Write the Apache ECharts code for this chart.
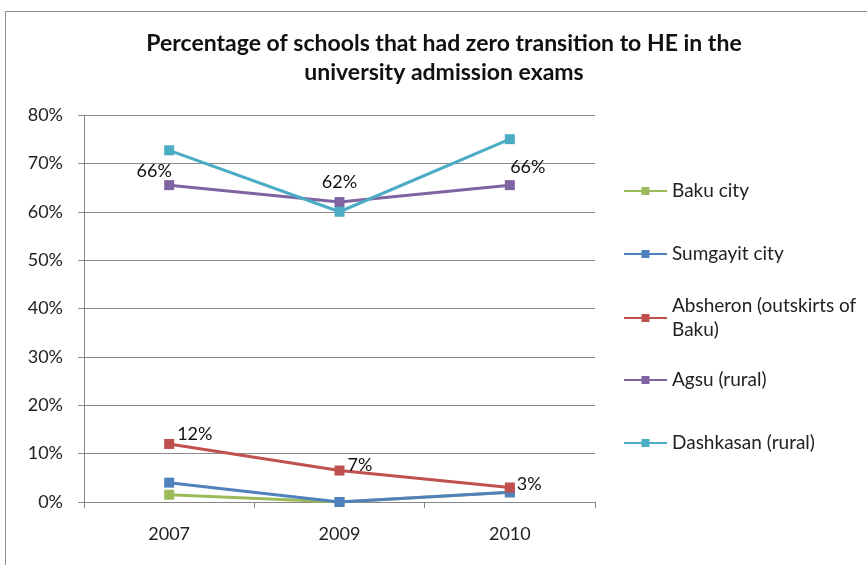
<!DOCTYPE html>
<html>
<head>
<meta charset="utf-8">
<script src="https://cdn.jsdelivr.net/npm/echarts@6/dist/echarts.min.js"></script>
<style>
  html, body { margin: 0; padding: 0; background: #fff; }
  #chart { width: 867px; height: 565px; }
</style>
</head>
<body>
<div id="chart"></div>
<script>
// 数据
const years = ['2007', '2009', '2010']
const bakuCity = [1.5, 0, 2]
const sumgayitCity = [4, 0, 2]
const absheron = [12, 6.5, 3]
const agsu = [65.5, 62, 65.5]
const dashkasan = [72.7, 60, 75]
const absheronLabels = ['12%', '7%', '3%']
const agsuLabels = ['66%', '62%', '66%']

const seriesNames = ['Baku city', 'Sumgayit city', 'Absheron (outskirts of Baku)', 'Agsu (rural)', 'Dashkasan (rural)']
const colors = ['#9BBB59', '#4F81BD', '#C0504D', '#8064A2', '#4BACC6']
// 图例线条所在的y
const legendLineY = [191, 254, 318, 380, 443]

const font = 'Lato, Open Sans, sans-serif'

function lineSeries(name, values, color, z) {
  return {
    name: name,
    type: 'line',
    data: values,
    symbol: 'rect',
    symbolSize: 10,
    z: z,
    lineStyle: { color: color, width: 3 },
    itemStyle: { color: color },
  }
}

const series = [
  lineSeries(seriesNames[0], bakuCity, colors[0], 2),
  lineSeries(seriesNames[1], sumgayitCity, colors[1], 3),
  lineSeries(seriesNames[2], absheron, colors[2], 4),
  lineSeries(seriesNames[3], agsu, colors[3], 5),
  lineSeries(seriesNames[4], dashkasan, colors[4], 6),
]

// 数据标签
const labelBase = { show: true, color: '#111', fontFamily: font, fontSize: 18 }
const absheronPos = [[-2, -10], [-2, -5], [-3, -3]]
series[2].data = absheron.map((v, i) => ({
  value: v,
  label: Object.assign({}, labelBase, { position: 'right', offset: absheronPos[i], formatter: absheronLabels[i] }),
}))
const agsuPos = [[-15, 5], [0, -1], [18, 1]]
series[3].data = agsu.map((v, i) => ({
  value: v,
  label: Object.assign({}, labelBase, { position: 'top', offset: agsuPos[i], formatter: agsuLabels[i] }),
}))

// 每个图例单独放置
const legends = seriesNames.map((name, i) => {
  const twoLines = name === 'Absheron (outskirts of Baku)'
  return {
    data: [name],
    left: 623,
    top: twoLines ? legendLineY[i] - 36 : legendLineY[i] - 12,
    padding: 0,
    orient: 'vertical',
    itemWidth: 43,
    itemHeight: 10,
    itemGap: 0,
    selectedMode: false,
    textStyle: {
      fontFamily: font,
      fontSize: 19,
      color: '#222',
      lineHeight: 24,
      padding: twoLines ? [24, 0, 0, 0] : 0,
    },
    formatter: n => (twoLines ? 'Absheron (outskirts of\nBaku)' : n),
  }
})

const chart = echarts.init(document.getElementById('chart'))
chart.setOption({
  animation: false,
  backgroundColor: '#fff',
  title: {
    text: 'Percentage of schools that had zero transition to HE in the\nuniversity admission exams',
    left: 444,
    textAlign: 'center',
    top: 29,
    padding: 0,
    textStyle: { fontFamily: font, fontSize: 23, fontWeight: 'bold', color: '#111', lineHeight: 29 },
  },
  legend: legends,
  graphic: [
    {
      type: 'rect',
      shape: { x: 5.5, y: 11.5, width: 900, height: 600 },
      style: { fill: 'none', stroke: '#8c8c8c', lineWidth: 1 },
      silent: true,
    },
  ],
  grid: { left: 84, right: 272, top: 115, bottom: 63 },
  xAxis: {
    type: 'category',
    data: years,
    boundaryGap: true,
    axisLine: { lineStyle: { color: '#868686', width: 1 } },
    axisTick: { show: true, length: 6, lineStyle: { color: '#868686' } },
    axisLabel: { fontFamily: font, fontSize: 18, color: '#222', margin: 23 },
  },
  yAxis: {
    type: 'value',
    min: 0,
    max: 80,
    interval: 10,
    axisLine: { show: true, lineStyle: { color: '#868686' } },
    axisTick: { show: true, length: 6, lineStyle: { color: '#868686' } },
    axisLabel: { fontFamily: font, fontSize: 18, color: '#222', margin: 21, formatter: '{value}%' },
    splitLine: { lineStyle: { color: '#8a8a8a', width: 1 } },
  },
  series: series,
})
</script>
</body>
</html>
